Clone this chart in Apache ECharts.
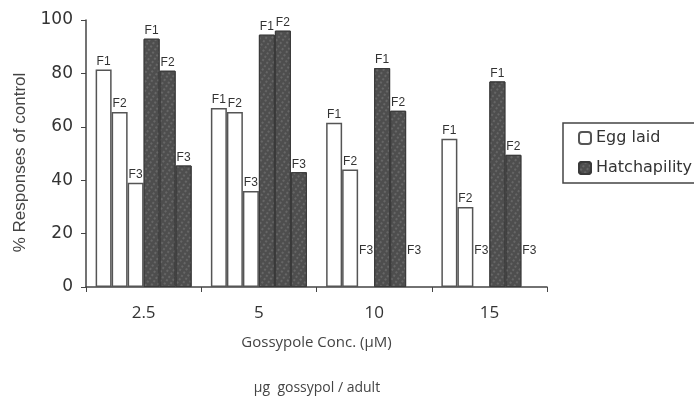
<!DOCTYPE html>
<html>
<head>
<meta charset="utf-8">
<script src="https://cdn.jsdelivr.net/npm/echarts@6/dist/echarts.min.js"></script>
<style>
  html, body { margin: 0; padding: 0; background: #fff; }
  #chart { width: 694px; height: 397px; }
</style>
</head>
<body>
<div id="chart"></div>
<script>
// 浓度分类
const concentrations = ['2.5', '5', '10', '15'];
const generations = ['F1', 'F2', 'F3'];

// 产卵量 (% of control)
const eggF1 = [81.5, 67, 61.5, 55.5];
const eggF2 = [65.5, 65.5, 44, 30];
const eggF3 = [39, 36, 0, 0];

// 孵化率 (% of control)
const hatchF1 = [93, 94.5, 82, 77];
const hatchF2 = [81, 96, 66, 49.5];
const hatchF3 = [45.5, 43, 0, 0];

const yTicks = { min: 0, max: 100, interval: 20 };

const font = 'Liberation Sans, Arial, sans-serif';
const wideFont = 'DejaVu Sans, sans-serif';
const labelFont = 'Open Sans, sans-serif';

function makeData(values) {
  // 零值柱子不画边框，标签抬高一点
  return values.map(v =>
    v === 0 ? { value: v, itemStyle: { borderWidth: 0 }, label: { offset: [0, -28] } } : v
  );
}

const eggStyle = { color: '#ffffff', borderColor: '#555', borderWidth: 1.5 };
const hatchStyle = {
  color: '#4e4e4e',
  borderColor: '#3a3a3a',
  borderWidth: 1,
  decal: {
    symbol: 'rect',
    symbolSize: 0.7,
    color: 'rgba(190,190,190,0.4)',
    dashArrayX: [2, 3],
    dashArrayY: [2, 2],
    rotation: 0.6,
  },
};

function makeSeries(name, values, gen, style) {
  return {
    name,
    type: 'bar',
    barWidth: 16,
    barGap: '0%',
    itemStyle: style,
    label: {
      show: true,
      position: 'top',
      distance: 2,
      formatter: gen,
      fontFamily: font,
      fontSize: 12,
      color: '#333',
    },
    data: makeData(values),
  };
}

const series = [
  makeSeries('Egg laid', eggF1, generations[0], eggStyle),
  makeSeries('Egg laid', eggF2, generations[1], eggStyle),
  makeSeries('Egg laid', eggF3, generations[2], eggStyle),
  makeSeries('Hatchapility', hatchF1, generations[0], hatchStyle),
  makeSeries('Hatchapility', hatchF2, generations[1], hatchStyle),
  makeSeries('Hatchapility', hatchF3, generations[2], hatchStyle),
];

const myChart = echarts.init(document.getElementById('chart'));

const option = {
  animation: false,
  backgroundColor: '#fff',
  grid: { left: 86, right: 147, top: 20, bottom: 110, containLabel: false },
  legend: {
    data: ['Egg laid', 'Hatchapility'],
    orient: 'vertical',
    left: 563,
    top: 123,
    padding: [7, 20, 7, 15],
    itemGap: 14,
    itemWidth: 12,
    itemHeight: 12,
    borderColor: '#444',
    borderWidth: 1.5,
    textStyle: { fontFamily: wideFont, fontSize: 16, color: '#333' },
  },
  xAxis: {
    type: 'category',
    data: concentrations,
    axisLine: { lineStyle: { color: '#444', width: 1.5 } },
    axisTick: { show: true, length: 5, lineStyle: { color: '#444' } },
    axisLabel: { fontFamily: labelFont, fontSize: 17, color: '#333', margin: 18 },
    name: 'Gossypole Conc. (μM)',
    nameLocation: 'middle',
    nameGap: 48,
    nameTextStyle: { fontFamily: labelFont, fontSize: 15, color: '#444' },
  },
  yAxis: {
    type: 'value',
    min: yTicks.min,
    max: yTicks.max,
    interval: yTicks.interval,
    splitLine: { show: false },
    axisLine: { show: true, lineStyle: { color: '#444', width: 1.5 } },
    axisTick: { show: true, length: 5, lineStyle: { color: '#444' } },
    axisLabel: { fontFamily: wideFont, fontSize: 17, color: '#333', margin: 13 },
    name: '% Responses of control',
    nameLocation: 'middle',
    nameGap: 57,
    nameTextStyle: { fontFamily: font, fontSize: 17, color: '#444', padding: [0, 18, 0, 0] },
  },
  graphic: [
    {
      type: 'text',
      x: 317,
      y: 388,
      style: {
        text: 'µg  gossypol / adult',
        fontFamily: labelFont,
        fontSize: 14,
        fill: '#444',
        align: 'center',
        verticalAlign: 'middle',
      },
    },
  ],
  series,
};

myChart.setOption(option);
</script>
</body>
</html>
